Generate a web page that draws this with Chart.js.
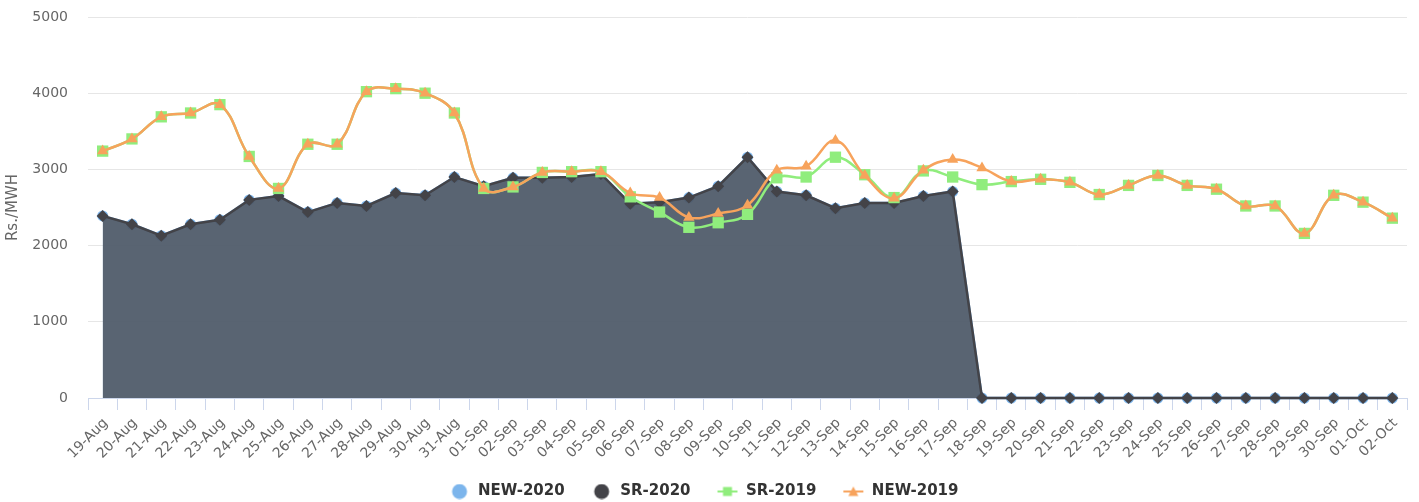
<!DOCTYPE html>
<html>
<head>
<meta charset="utf-8">
<script src="https://cdn.jsdelivr.net/npm/chart.js@4/dist/chart.umd.min.js"></script>
<style>
  body { margin: 0; background: #ffffff; }
  #wrap { width: 1419px; height: 502px; }
</style>
</head>
<body>
<div id="wrap"><canvas id="chart" width="1419" height="502"></canvas></div>
<script>
const days = [
    '19-Aug', '20-Aug', '21-Aug', '22-Aug', '23-Aug', '24-Aug', '25-Aug', '26-Aug', '27-Aug', '28-Aug',
    '29-Aug', '30-Aug', '31-Aug', '01-Sep', '02-Sep', '03-Sep', '04-Sep', '05-Sep', '06-Sep', '07-Sep',
    '08-Sep', '09-Sep', '10-Sep', '11-Sep', '12-Sep', '13-Sep', '14-Sep', '15-Sep', '16-Sep', '17-Sep',
    '18-Sep', '19-Sep', '20-Sep', '21-Sep', '22-Sep', '23-Sep', '24-Sep', '25-Sep', '26-Sep', '27-Sep',
    '28-Sep', '29-Sep', '30-Sep', '01-Oct', '02-Oct'
];

const new2020 = [
    2390, 2280, 2130, 2280, 2340, 2600, 2650, 2440, 2560, 2520,
    2690, 2660, 2900, 2780, 2890, 2890, 2900, 2940, 2550, 2570,
    2630, 2780, 3160, 2710, 2660, 2490, 2560, 2560, 2650, 2710,
    0, 0, 0, 0, 0, 0, 0, 0, 0, 0,
    0, 0, 0, 0, 0
];

const sr2020 = [
    2390, 2280, 2130, 2280, 2340, 2600, 2650, 2440, 2560, 2520,
    2690, 2660, 2900, 2780, 2890, 2890, 2900, 2940, 2550, 2570,
    2630, 2780, 3160, 2710, 2660, 2490, 2560, 2560, 2650, 2710,
    0, 0, 0, 0, 0, 0, 0, 0, 0, 0,
    0, 0, 0, 0, 0
];

const sr2019 = [
    3240, 3400, 3690, 3740, 3850, 3170, 2750, 3330, 3330, 4020,
    4060, 4000, 3740, 2750, 2770, 2960, 2970, 2970, 2640, 2440,
    2240, 2300, 2410, 2890, 2900, 3160, 2930, 2630, 2980, 2900,
    2800, 2840, 2870, 2830, 2670, 2790, 2920, 2790, 2740, 2520,
    2520, 2160, 2660, 2570, 2360
];

const new2019 = [
    3240, 3400, 3690, 3740, 3850, 3170, 2750, 3330, 3330, 4020,
    4060, 4000, 3740, 2750, 2770, 2960, 2970, 2970, 2690, 2630,
    2370, 2420, 2530, 2990, 3040, 3380, 2920, 2620, 2990, 3130,
    3020, 2840, 2870, 2830, 2670, 2790, 2920, 2790, 2740, 2520,
    2520, 2160, 2660, 2570, 2360
];

const yTicks = [0, 1000, 2000, 3000, 4000, 5000];

Chart.defaults.font.family = "'DejaVu Sans', sans-serif";

// little legend symbols, Highcharts style (line + marker for the line series)
function legendIcon(shape, color) {
    const c = document.createElement('canvas');
    c.width = 22;
    c.height = 16;
    const g = c.getContext('2d');
    g.fillStyle = color;
    g.strokeStyle = color;
    if (shape === 'circle') {
        g.beginPath();
        g.arc(11, 8, 7.5, 0, Math.PI * 2);
        g.fill();
        return c;
    }
    g.lineWidth = 2;
    g.beginPath();
    g.moveTo(1, 8);
    g.lineTo(21, 8);
    g.stroke();
    g.beginPath();
    if (shape === 'rect') {
        g.rect(6.5, 3.5, 9, 9);
    } else {
        g.moveTo(11, 3);
        g.lineTo(16, 12.5);
        g.lineTo(6, 12.5);
        g.closePath();
    }
    g.fill();
    return c;
}

const icons = [
    legendIcon('circle', '#7cb5ec'),
    legendIcon('circle', '#434348'),
    legendIcon('rect', '#90ed7d'),
    legendIcon('triangle', '#f7a35c')
];

const ctx = document.getElementById('chart').getContext('2d');

new Chart(ctx, {
    type: 'line',
    data: {
        labels: days,
        datasets: [{
            label: 'NEW-2020',
            data: new2020,
            order: 4,
            borderColor: '#7cb5ec',
            backgroundColor: 'rgba(124, 181, 236, 0.75)',
            borderWidth: 2.5,
            fill: 'origin',
            tension: 0,
            pointStyle: 'circle',
            pointRadius: 5.5,
            pointBorderWidth: 0,
            pointBackgroundColor: '#7cb5ec',
            clip: false
        }, {
            label: 'SR-2020',
            data: sr2020,
            order: 3,
            borderColor: '#434348',
            backgroundColor: 'rgba(67, 67, 72, 0.75)',
            borderWidth: 2.5,
            fill: 'origin',
            tension: 0,
            pointStyle: 'rectRot',
            pointRadius: 6,
            pointBorderWidth: 0,
            pointBackgroundColor: '#434348',
            clip: false
        }, {
            label: 'SR-2019',
            data: sr2019,
            order: 2,
            borderColor: '#90ed7d',
            backgroundColor: '#90ed7d',
            borderWidth: 2.5,
            fill: false,
            tension: 0.4,
            pointStyle: 'rect',
            pointRadius: 8,
            pointBorderWidth: 0,
            pointBackgroundColor: '#90ed7d'
        }, {
            label: 'NEW-2019',
            data: new2019,
            order: 1,
            borderColor: '#f7a35c',
            backgroundColor: '#f7a35c',
            borderWidth: 2.5,
            fill: false,
            tension: 0.4,
            pointStyle: 'triangle',
            pointRadius: 6.5,
            pointBorderWidth: 0,
            pointBackgroundColor: '#f7a35c'
        }]
    },
    options: {
        responsive: false,
        animation: false,
        layout: {
            padding: { top: 17, right: 12, left: 0, bottom: 0 }
        },
        scales: {
            x: {
                offset: true,
                grid: {
                    offset: true,
                    drawOnChartArea: false,
                    color: '#ccd6eb',
                    tickLength: 12
                },
                border: { color: '#ccd6eb' },
                ticks: {
                    color: '#666666',
                    font: { size: 14 },
                    minRotation: 45,
                    maxRotation: 45,
                    autoSkip: false,
                    labelOffset: 3,
                    padding: 5
                },
                afterFit: (scale) => { scale.height = 60; }
            },
            y: {
                min: 0,
                max: 5000,
                afterBuildTicks: (scale) => {
                    scale.ticks = yTicks.map(v => ({ value: v }));
                },
                grid: { color: '#e6e6e6', drawTicks: false },
                border: { display: false },
                ticks: {
                    color: '#666666',
                    font: { size: 14 },
                    padding: 20,
                    callback: (value) => String(value)
                },
                title: {
                    display: true,
                    text: 'Rs./MWH',
                    color: '#666666',
                    font: { size: 15 },
                    padding: { top: 4, bottom: 4 }
                },
                afterFit: (scale) => {
                    scale.width = 88;
                    scale.paddingTop = 0;
                    scale.paddingBottom = 0;
                }
            }
        },
        plugins: {
            tooltip: { enabled: false },
            legend: {
                display: true,
                position: 'bottom',
                maxHeight: 44,
                labels: {
                    usePointStyle: true,
                    pointStyleWidth: 22,
                    padding: 26,
                    color: '#333333',
                    font: { size: 15, weight: 'bold' },
                    generateLabels: (chart) => chart.data.datasets.map((ds, i) => ({
                        text: ds.label,
                        fillStyle: ds.borderColor,
                        strokeStyle: ds.borderColor,
                        lineWidth: 0,
                        pointStyle: icons[i],
                        fontColor: '#333333',
                        hidden: !chart.isDatasetVisible(i),
                        datasetIndex: i
                    }))
                }
            }
        }
    }
});
</script>
</body>
</html>
